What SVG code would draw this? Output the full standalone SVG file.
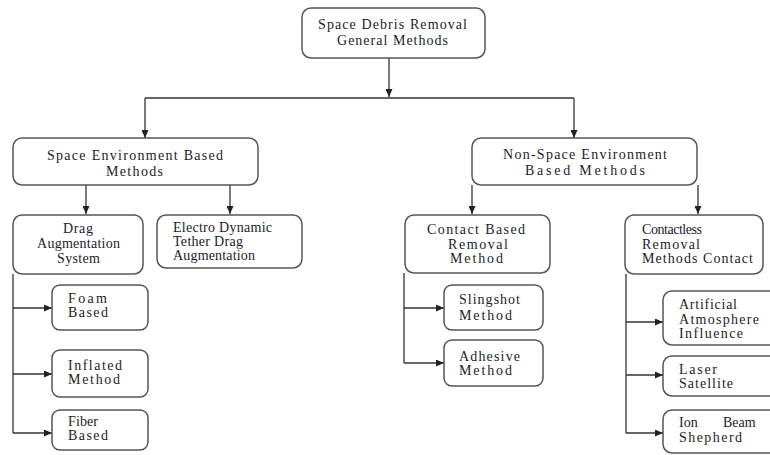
<svg xmlns="http://www.w3.org/2000/svg" width="770" height="455" viewBox="0 0 770 455">
<style>
.box{fill:#fff;stroke:#555;stroke-width:1.5}
.t{font-family:"Liberation Serif","Times New Roman",serif;font-size:14px;fill:#1c1c28}
.ln{stroke:#333;stroke-width:1.3;fill:none}
</style>
<defs>
<marker id="ah" markerUnits="userSpaceOnUse" markerWidth="8" markerHeight="7" refX="8" refY="3.5" orient="auto">
<path d="M0,0 L8,3.5 L0,7 z" fill="#222"/>
</marker>
</defs>
<rect width="770" height="455" fill="#fff"/>
<g id="connectors">
<line class="ln" x1="389" y1="58" x2="389" y2="97" marker-end="url(#ah)"/>
<line class="ln" x1="145" y1="98" x2="574" y2="98"/>
<line class="ln" x1="145" y1="98" x2="145" y2="138" marker-end="url(#ah)"/>
<line class="ln" x1="574" y1="98" x2="574" y2="138" marker-end="url(#ah)"/>
<line class="ln" x1="86" y1="185" x2="86" y2="214" marker-end="url(#ah)"/>
<line class="ln" x1="230" y1="185" x2="230" y2="214" marker-end="url(#ah)"/>
<line class="ln" x1="472" y1="185" x2="472" y2="214" marker-end="url(#ah)"/>
<line class="ln" x1="698" y1="185" x2="698" y2="214" marker-end="url(#ah)"/>
<line class="ln" x1="13" y1="274" x2="13" y2="433"/>
<line class="ln" x1="13" y1="308" x2="52" y2="308" marker-end="url(#ah)"/>
<line class="ln" x1="13" y1="374" x2="52" y2="374" marker-end="url(#ah)"/>
<line class="ln" x1="13" y1="433" x2="52" y2="433" marker-end="url(#ah)"/>
<line class="ln" x1="404" y1="273" x2="404" y2="363"/>
<line class="ln" x1="404" y1="308" x2="444" y2="308" marker-end="url(#ah)"/>
<line class="ln" x1="404" y1="363" x2="444" y2="363" marker-end="url(#ah)"/>
<line class="ln" x1="626" y1="274" x2="626" y2="433"/>
<line class="ln" x1="626" y1="322" x2="663" y2="322" marker-end="url(#ah)"/>
<line class="ln" x1="626" y1="375" x2="663" y2="375" marker-end="url(#ah)"/>
<line class="ln" x1="626" y1="433" x2="663" y2="433" marker-end="url(#ah)"/>
</g>
<g id="n-root">
<rect class="box" x="302" y="8" width="183" height="50" rx="9"/>
<text class="t" x="318" y="29" textLength="149" lengthAdjust="spacing">Space Debris Removal</text>
<text class="t" x="337" y="45" textLength="111" lengthAdjust="spacing">General Methods</text>
</g>
<g id="n-space-env">
<rect class="box" x="13" y="138" width="245" height="47" rx="9"/>
<text class="t" x="47" y="160" textLength="176" lengthAdjust="spacing">Space Environment Based</text>
<text class="t" x="106" y="176" textLength="57" lengthAdjust="spacing">Methods</text>
</g>
<g id="n-nonspace-env">
<rect class="box" x="472" y="138" width="225" height="47" rx="9"/>
<text class="t" x="503" y="159" textLength="164" lengthAdjust="spacing">Non-Space Environment</text>
<text class="t" x="525" y="175" textLength="120" lengthAdjust="spacing">Based Methods</text>
</g>
<g id="n-drag">
<rect class="box" x="13" y="215" width="130" height="59" rx="9"/>
<text class="t" x="63" y="233" textLength="30" lengthAdjust="spacing">Drag</text>
<text class="t" x="37" y="248" textLength="83" lengthAdjust="spacing">Augmentation</text>
<text class="t" x="57" y="263" textLength="43" lengthAdjust="spacing">System</text>
</g>
<g id="n-electro">
<rect class="box" x="157" y="215" width="145" height="53" rx="9"/>
<text class="t" x="173" y="232" textLength="99" lengthAdjust="spacing">Electro Dynamic</text>
<text class="t" x="173" y="246" textLength="70" lengthAdjust="spacing">Tether Drag</text>
<text class="t" x="173" y="260" textLength="82" lengthAdjust="spacing">Augmentation</text>
</g>
<g id="n-contact">
<rect class="box" x="405" y="215" width="145" height="58" rx="9"/>
<text class="t" x="427" y="234" textLength="98" lengthAdjust="spacing">Contact Based</text>
<text class="t" x="448" y="249" textLength="60" lengthAdjust="spacing">Removal</text>
<text class="t" x="450" y="263" textLength="53" lengthAdjust="spacing">Method</text>
</g>
<g id="n-contactless">
<rect class="box" x="625" y="215" width="138" height="59" rx="9"/>
<text class="t" x="642" y="234" textLength="60" lengthAdjust="spacing">Contactless</text>
<text class="t" x="642" y="249" textLength="58" lengthAdjust="spacing">Removal</text>
<text class="t" x="642" y="263" textLength="111" lengthAdjust="spacing">Methods Contact</text>
</g>
<g id="n-foam">
<rect class="box" x="52" y="285" width="96" height="45" rx="8"/>
<text class="t" x="68" y="303" textLength="39" lengthAdjust="spacing">Foam</text>
<text class="t" x="68" y="317" textLength="40" lengthAdjust="spacing">Based</text>
</g>
<g id="n-inflated">
<rect class="box" x="52" y="350" width="96" height="47" rx="8"/>
<text class="t" x="68" y="370" textLength="54" lengthAdjust="spacing">Inflated</text>
<text class="t" x="68" y="384" textLength="52" lengthAdjust="spacing">Method</text>
</g>
<g id="n-fiber">
<rect class="box" x="52" y="410" width="96" height="40" rx="8"/>
<text class="t" x="68" y="426" textLength="30" lengthAdjust="spacing">Fiber</text>
<text class="t" x="68" y="440" textLength="40" lengthAdjust="spacing">Based</text>
</g>
<g id="n-slingshot">
<rect class="box" x="444" y="285" width="99" height="45" rx="8"/>
<text class="t" x="459" y="304" textLength="61" lengthAdjust="spacing">Slingshot</text>
<text class="t" x="459" y="320" textLength="53" lengthAdjust="spacing">Method</text>
</g>
<g id="n-adhesive">
<rect class="box" x="444" y="340" width="99" height="46" rx="8"/>
<text class="t" x="459" y="361" textLength="61" lengthAdjust="spacing">Adhesive</text>
<text class="t" x="459" y="375" textLength="53" lengthAdjust="spacing">Method</text>
</g>
<g id="n-artificial">
<rect class="box" x="663" y="291" width="115" height="54" rx="9"/>
<text class="t" x="679" y="309" textLength="58" lengthAdjust="spacing">Artificial</text>
<text class="t" x="679" y="324" textLength="80" lengthAdjust="spacing">Atmosphere</text>
<text class="t" x="679" y="338" textLength="64" lengthAdjust="spacing">Influence</text>
</g>
<g id="n-laser">
<rect class="box" x="663" y="356" width="115" height="40" rx="9"/>
<text class="t" x="679" y="374" textLength="38" lengthAdjust="spacing">Laser</text>
<text class="t" x="679" y="388" textLength="54" lengthAdjust="spacing">Satellite</text>
</g>
<g id="n-ion">
<rect class="box" x="663" y="410" width="115" height="43" rx="9"/>
<text class="t" x="679" y="427"><tspan>Ion</tspan> <tspan x="723">Beam</tspan></text>
<text class="t" x="679" y="442" textLength="63" lengthAdjust="spacing">Shepherd</text>
</g>
</svg>
